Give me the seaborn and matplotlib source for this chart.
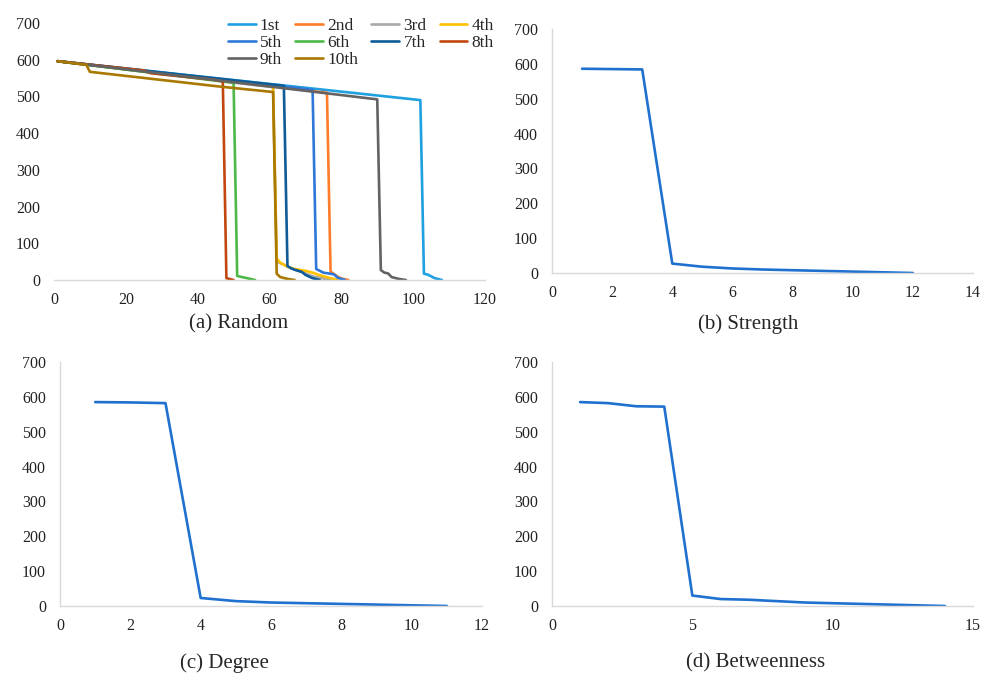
import matplotlib
matplotlib.use("Agg")
import matplotlib.pyplot as plt
import seaborn as sns
import pandas as pd

sns.set_theme(style="white")
plt.rcParams['font.family'] = ['Liberation Serif', 'DejaVu Serif']

# ---------------- data ----------------
run_labels = ["1st", "2nd", "3rd", "4th", "5th", "6th", "7th", "8th", "9th", "10th"]
run_colors = ["#1FA0E0", "#FF7C2A", "#A8A8A8", "#FFC000", "#2F78D8",
              "#4DB848", "#0F5C98", "#C2470F", "#636363", "#A97800"]

run1_x = [1, 102, 103, 104, 106, 108]
run1_y = [596, 490, 17, 15, 5, 0]
run2_x = [1, 76, 77, 79, 80, 82]
run2_y = [596, 510, 23, 9, 4, 0]
run3_x = [1, 61, 62, 64, 66, 68, 70, 72, 75, 78]
run3_y = [596, 525, 50, 42, 32, 25, 18, 10, 4, 0]
run4_x = [1, 61, 62, 63, 65, 67, 70, 72, 74, 77, 79]
run4_y = [596, 527, 59, 47, 36, 30, 25, 20, 13, 5, 0]
run5_x = [1, 72, 73, 75, 77, 78, 79, 81]
run5_y = [596, 518, 30, 20, 17, 15, 6, 0]
run6_x = [1, 50, 51, 56]
run6_y = [596, 537, 11, 0]
run7_x = [1, 64, 65, 66, 67, 69, 70, 72, 74]
run7_y = [596, 529, 38, 32, 28, 22, 14, 5, 0]
run8_x = [1, 25, 27, 44, 47, 48, 50]
run8_y = [596, 571, 563, 546, 541, 5, 0]
run9_x = [1, 90, 91, 92, 93, 94, 96, 98]
run9_y = [596, 492, 27, 20, 18, 8, 3, 0]
run10_x = [1, 9, 10, 46, 61, 62, 63, 65, 67]
run10_y = [596, 586, 567, 527, 512, 17, 8, 3, 0]

strength_x = [1, 2, 3, 4, 5, 6, 7, 8, 9, 10, 11, 12]
strength_y = [586, 585, 584, 27, 18, 13, 10, 8, 6, 4, 2, 0]

degree_x = [1, 2, 3, 4, 5, 6, 7, 8, 9, 10, 11]
degree_y = [585, 584, 582, 23, 14, 10, 8, 6, 4, 2, 0]

betw_x = [1, 2, 3, 4, 5, 6, 7, 8, 9, 10, 11, 12, 13, 14]
betw_y = [585, 582, 573, 572, 30, 20, 18, 14, 10, 8, 6, 4, 2, 0]

yticks = [0, 100, 200, 300, 400, 500, 600, 700]
panel_titles = ["(a) Random", "(b) Strength", "(c) Degree", "(d) Betweenness"]

# ---------------- figure ----------------
fig = plt.figure(figsize=(9.89, 6.75), dpi=100)
W, H = 989, 675

def add_axes(x0, x1, ytop, ybot):
    return fig.add_axes([x0 / W, 1 - ybot / H, (x1 - x0) / W, (ybot - ytop) / H])

ax_a = add_axes(54, 485, 23, 280)
ax_b = add_axes(552, 973, 29, 273)
ax_c = add_axes(60, 482, 362, 606)
ax_d = add_axes(552, 973, 362, 606)

grid = "#D9D9D9"
line_blue = "#1F70CF"
tick_fs = 11.5

def style(ax, xlim, xticks, left_spine=True):
    ax.set_xlim(*xlim)
    ax.set_ylim(0, 700)
    ax.set_xticks(xticks)
    ax.set_yticks(yticks)
    for s in ["top", "right"]:
        ax.spines[s].set_visible(False)
    ax.spines["left"].set_visible(left_spine)
    ax.spines["bottom"].set_color(grid)
    ax.spines["left"].set_color(grid)
    ax.spines["bottom"].set_linewidth(1.0)
    ax.spines["left"].set_linewidth(1.0)
    ax.tick_params(axis="both", length=0, labelsize=tick_fs, colors="#222222")
    ax.tick_params(axis="y", pad=10)
    ax.tick_params(axis="x", pad=9)
    ax.set_xlabel("")
    ax.set_ylabel("")
    ax.set_facecolor("white")

# panel (a)
xs = [run1_x, run2_x, run3_x, run4_x, run5_x, run6_x, run7_x, run8_x, run9_x, run10_x]
ys = [run1_y, run2_y, run3_y, run4_y, run5_y, run6_y, run7_y, run8_y, run9_y, run10_y]
frames = []
for lab, xv, yv in zip(run_labels, xs, ys):
    frames.append(pd.DataFrame({"x": xv, "y": yv, "run": lab}))
df_a = pd.concat(frames, ignore_index=True)
sns.lineplot(data=df_a, x="x", y="y", hue="run", hue_order=run_labels,
             palette=dict(zip(run_labels, run_colors)), estimator=None,
             sort=False, linewidth=1.9, ax=ax_a, legend=True)
style(ax_a, (0, 120), list(range(0, 121, 20)), left_spine=False)

handles, labels = ax_a.get_legend_handles_labels()
hmap = dict(zip(labels, handles))
order = ["1st", "5th", "9th", "2nd", "6th", "10th", "3rd", "7th", "4th", "8th"]
ax_a.legend([hmap[o] for o in order], order, ncol=4, frameon=False,
            loc="upper right", bbox_to_anchor=(501 / W, 1 - 11 / H),
            bbox_transform=fig.transFigure, fontsize=12.5,
            handlelength=1.6, handletextpad=0.25, columnspacing=0.75,
            labelspacing=0.05, borderaxespad=0)

# panel (b)
sns.lineplot(x=strength_x, y=strength_y, color=line_blue, linewidth=1.9, ax=ax_b)
style(ax_b, (0, 14), list(range(0, 15, 2)))

# panel (c)
sns.lineplot(x=degree_x, y=degree_y, color=line_blue, linewidth=1.9, ax=ax_c)
style(ax_c, (0, 12), list(range(0, 13, 2)))

# panel (d)
sns.lineplot(x=betw_x, y=betw_y, color=line_blue, linewidth=1.9, ax=ax_d)
style(ax_d, (0, 15), [0, 5, 10, 15])

title_fs = 15
fig.text(239 / W, 1 - 324 / H, panel_titles[0], ha="center", va="center", fontsize=title_fs)
fig.text(748 / W, 1 - 324 / H, panel_titles[1], ha="center", va="center", fontsize=title_fs)
fig.text(224 / W, 1 - 663 / H, panel_titles[2], ha="center", va="center", fontsize=title_fs)
fig.text(756 / W, 1 - 663 / H, panel_titles[3], ha="center", va="center", fontsize=title_fs)

fig.savefig("out.png", dpi=100, facecolor="white")
